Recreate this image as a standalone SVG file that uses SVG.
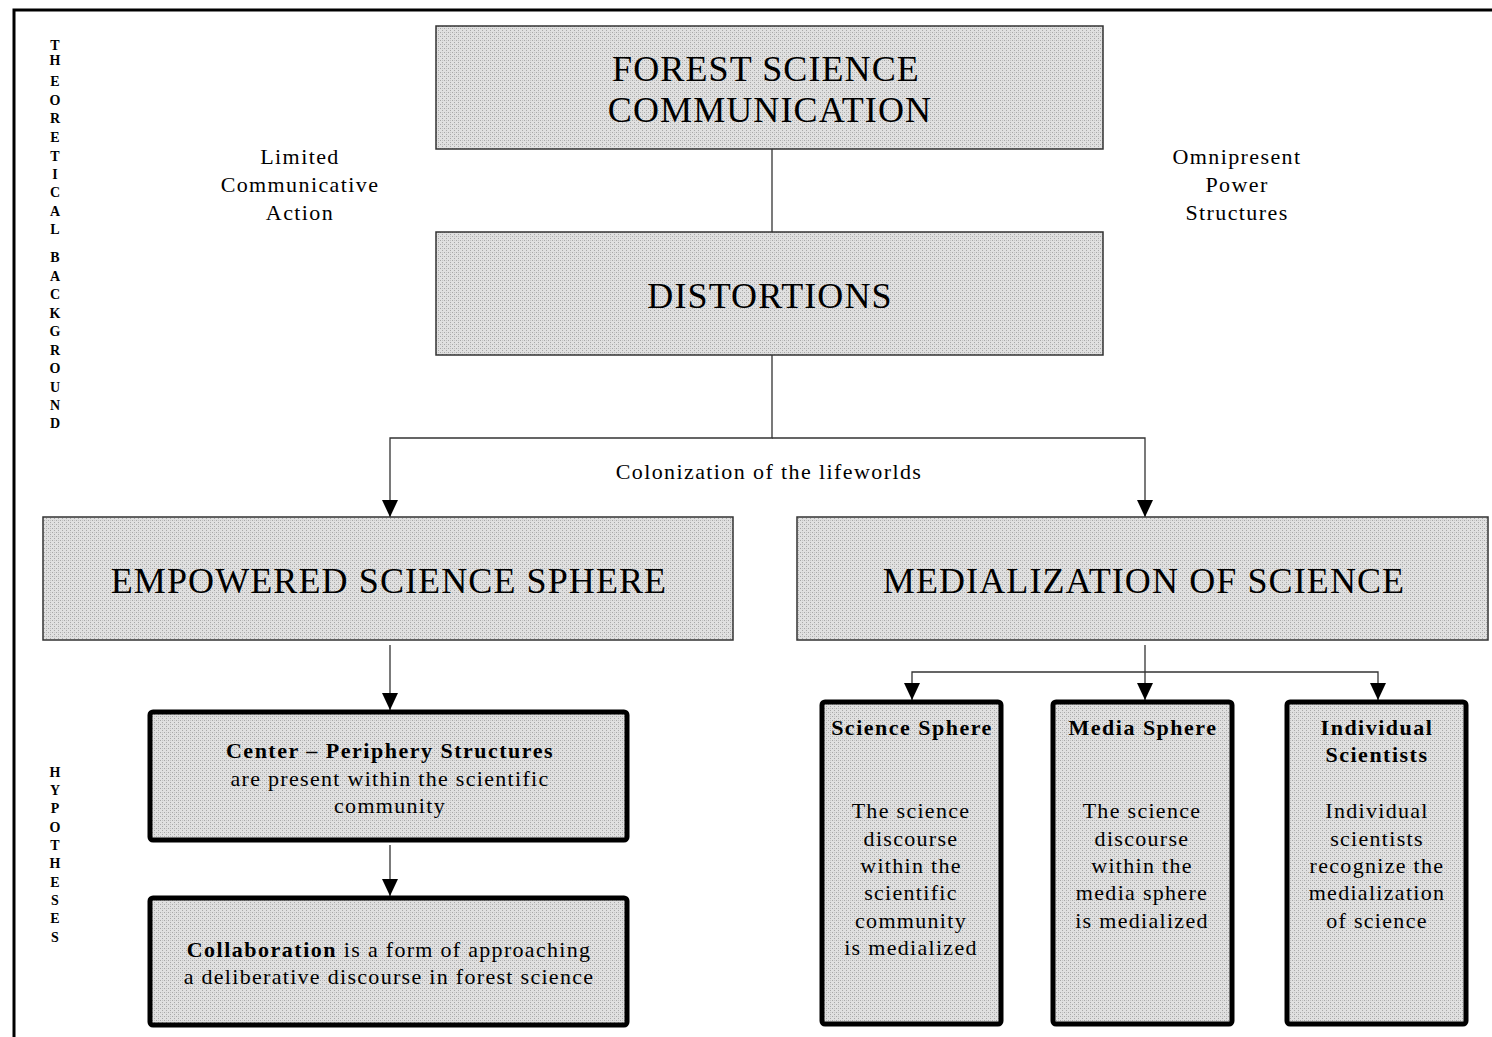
<svg xmlns="http://www.w3.org/2000/svg" width="1492" height="1037" viewBox="0 0 1492 1037">
<style>
text{font-family:"Liberation Serif","Times New Roman",serif;fill:#000;}
.big{font-size:36px;text-anchor:middle;letter-spacing:1.1px;}
.mid{font-size:22px;text-anchor:middle;letter-spacing:1.4px;}
.body{font-size:22px;text-anchor:middle;letter-spacing:1.3px;}
.bold{font-weight:bold;letter-spacing:1.5px;}
.vert{font-size:14px;font-weight:bold;text-anchor:middle;}
.thin{fill:url(#dither);stroke:#333;stroke-width:1.5;}
.thick{fill:url(#dither);stroke:#000;stroke-width:5;}
.conn{fill:none;stroke:#333;stroke-width:1.3;}
</style>
<defs>
<pattern id="dither" width="4" height="4" patternUnits="userSpaceOnUse">
<rect width="4" height="4" fill="#e0e0e0"/>
<rect x="0" y="0" width="1" height="1" fill="#a8a8a8"/>
<rect x="2" y="2" width="1" height="1" fill="#a8a8a8"/>
<rect x="2" y="0" width="1" height="1" fill="#c4c4c4"/>
</pattern>
<marker id="arr" viewBox="0 0 17 16" refX="17" refY="8" markerWidth="17" markerHeight="16" markerUnits="userSpaceOnUse" orient="auto">
<path d="M0,0 L17,8 L0,16 Z" fill="#000"/>
</marker>
</defs>
<rect width="1492" height="1037" fill="#fff"/>
<path d="M14,1037 V10 H1492" fill="none" stroke="#000" stroke-width="3"/>

<g id="side-labels">
<text class="vert" x="55" y="50">T</text>
<text class="vert" x="55" y="65">H</text>
<text class="vert" x="55" y="86">E</text>
<text class="vert" x="55" y="105">O</text>
<text class="vert" x="55" y="123">R</text>
<text class="vert" x="55" y="142">E</text>
<text class="vert" x="55" y="161">T</text>
<text class="vert" x="55" y="179">I</text>
<text class="vert" x="55" y="197">C</text>
<text class="vert" x="55" y="216">A</text>
<text class="vert" x="55" y="234">L</text>
<text class="vert" x="55" y="262">B</text>
<text class="vert" x="55" y="281">A</text>
<text class="vert" x="55" y="299">C</text>
<text class="vert" x="55" y="318">K</text>
<text class="vert" x="55" y="336">G</text>
<text class="vert" x="55" y="355">R</text>
<text class="vert" x="55" y="373">O</text>
<text class="vert" x="55" y="392">U</text>
<text class="vert" x="55" y="410">N</text>
<text class="vert" x="55" y="428">D</text>
<text class="vert" x="55" y="777">H</text>
<text class="vert" x="55" y="795">Y</text>
<text class="vert" x="55" y="813">P</text>
<text class="vert" x="55" y="832">O</text>
<text class="vert" x="55" y="850">T</text>
<text class="vert" x="55" y="868">H</text>
<text class="vert" x="55" y="887">E</text>
<text class="vert" x="55" y="905">S</text>
<text class="vert" x="55" y="923">E</text>
<text class="vert" x="55" y="942">S</text>
</g>

<g id="label-left">
<text class="mid" x="300" y="164">Limited</text>
<text class="mid" x="300" y="192">Communicative</text>
<text class="mid" x="300" y="220">Action</text>
</g>
<g id="label-right">
<text class="mid" x="1237" y="164">Omnipresent</text>
<text class="mid" x="1237" y="192">Power</text>
<text class="mid" x="1237" y="220">Structures</text>
</g>

<g id="connectors">
<path class="conn" d="M772,149 V232"/>
<path class="conn" d="M772,355 V438 H390 V517" marker-end="url(#arr)"/>
<path class="conn" d="M772,438 H1145 V517" marker-end="url(#arr)"/>
<path class="conn" d="M390,645 V710" marker-end="url(#arr)"/>
<path class="conn" d="M390,845 V896" marker-end="url(#arr)"/>
<path class="conn" d="M1145,645 V700" marker-end="url(#arr)"/>
<path class="conn" d="M1145,672 H912 V700" marker-end="url(#arr)"/>
<path class="conn" d="M1145,672 H1378 V700" marker-end="url(#arr)"/>
<text class="mid" x="769" y="479">Colonization of the lifeworlds</text>
</g>

<g id="forest-science-communication">
<rect class="thin" x="436" y="26" width="667" height="123"/>
<text class="big" x="766" y="81">FOREST SCIENCE</text>
<text class="big" x="770" y="122">COMMUNICATION</text>
</g>
<g id="distortions">
<rect class="thin" x="436" y="232" width="667" height="123"/>
<text class="big" x="770" y="308">DISTORTIONS</text>
</g>
<g id="empowered-science-sphere">
<rect class="thin" x="43" y="517" width="690" height="123"/>
<text class="big" x="389" y="593">EMPOWERED SCIENCE SPHERE</text>
</g>
<g id="medialization-of-science">
<rect class="thin" x="797" y="517" width="691" height="123"/>
<text class="big" x="1144" y="593">MEDIALIZATION OF SCIENCE</text>
</g>
<g id="center-periphery">
<rect class="thick" x="150" y="712" width="477" height="128" rx="3"/>
<text class="body bold" x="390" y="758">Center – Periphery Structures</text>
<text class="body" x="390" y="786">are present within the scientific</text>
<text class="body" x="390" y="813">community</text>
</g>
<g id="collaboration">
<rect class="thick" x="150" y="898" width="477" height="127" rx="3"/>
<text class="body" x="389" y="957"><tspan class="bold">Collaboration</tspan> is a form of approaching</text>
<text class="body" x="389" y="984">a deliberative discourse in forest science</text>
</g>
<g id="science-sphere">
<rect class="thick" x="822" y="702" width="179" height="322" rx="3"/>
<text class="body bold" x="912" y="735">Science Sphere</text>
<text class="body" x="911" y="818">The science</text>
<text class="body" x="911" y="846">discourse</text>
<text class="body" x="911" y="873">within the</text>
<text class="body" x="911" y="900">scientific</text>
<text class="body" x="911" y="928">community</text>
<text class="body" x="911" y="955">is medialized</text>
</g>
<g id="media-sphere">
<rect class="thick" x="1053" y="702" width="179" height="322" rx="3"/>
<text class="body bold" x="1143" y="735">Media Sphere</text>
<text class="body" x="1142" y="818">The science</text>
<text class="body" x="1142" y="846">discourse</text>
<text class="body" x="1142" y="873">within the</text>
<text class="body" x="1142" y="900">media sphere</text>
<text class="body" x="1142" y="928">is medialized</text>
</g>
<g id="individual-scientists">
<rect class="thick" x="1287" y="702" width="179" height="322" rx="3"/>
<text class="body bold" x="1377" y="735">Individual</text>
<text class="body bold" x="1377" y="762">Scientists</text>
<text class="body" x="1377" y="818">Individual</text>
<text class="body" x="1377" y="846">scientists</text>
<text class="body" x="1377" y="873">recognize the</text>
<text class="body" x="1377" y="900">medialization</text>
<text class="body" x="1377" y="928">of science</text>
</g>
</svg>
